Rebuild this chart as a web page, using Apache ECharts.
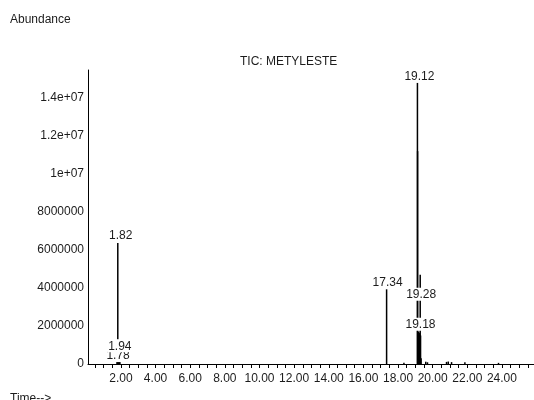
<!DOCTYPE html>
<html>
<head>
<meta charset="utf-8">
<script src="https://cdn.jsdelivr.net/npm/echarts@6/dist/echarts.min.js"></script>
<style>
  html, body { margin: 0; padding: 0; background: #fff; }
  #chart { width: 534px; height: 400px; }
</style>
</head>
<body>
<div id="chart"></div>
<script>
// Total ion chromatogram: retention time (min) vs abundance
const peakTimes = [1.78, 1.80, 1.82, 1.86, 1.90, 1.94, 17.34, 18.34,
                   19.12, 19.13, 19.18, 19.20, 19.22, 19.25, 19.28, 19.30, 19.33,
                   19.60, 19.70, 20.80, 20.90, 21.09, 21.86, 23.80];
const peakHeights = [260000, 240000, 6370000, 250000, 230000, 200000, 3930000, 60000,
                     14800000, 11200000, 1700000, 1600000, 1650000, 1550000, 4700000, 1500000, 300000,
                     120000, 90000, 110000, 130000, 100000, 90000, 60000];
// peaks that carry a retention-time label, with the label nudge [dx, dy] in px
const labelledPeaks = {
  1.78: [1, 4],
  1.82: [3, 0],
  1.94: [0, -7],
  17.34: [1, 0],
  19.12: [2, 1],
  19.18: [2, 0],
  19.28: [1, 27]
};
const xTickLabels = ['2.00', '4.00', '6.00', '8.00', '10.00', '12.00', '14.00',
                     '16.00', '18.00', '20.00', '22.00', '24.00'];
const yTickValues = [0, 2000000, 4000000, 6000000, 8000000, 10000000, 12000000, 14000000];
const yTickLabels = ['0', '2000000', '4000000', '6000000', '8000000', '1e+07', '1.2e+07', '1.4e+07'];

const X_MIN = 0.1, X_MAX = 25.85;
const xLabelValues = xTickLabels.map(Number);
const xMinorTicks = [];
for (let t = 0.5; t <= X_MAX; t += 0.5) xMinorTicks.push(Math.round(t * 10) / 10);

const textColor = '#1c1c1c';
const fontFamily = 'Liberation Sans, Arial, sans-serif';

const barData = peakTimes.map((t, i) => {
  const item = { value: [t, peakHeights[i]] };
  if (labelledPeaks[t]) item.label = { show: true };
  return item;
});

const chart = echarts.init(document.getElementById('chart'), null, { renderer: 'canvas' });
chart.setOption({
  animation: false,
  backgroundColor: '#fff',
  textStyle: { fontFamily: fontFamily },
  title: [
    { text: 'Abundance', left: 5, top: 9,
      textStyle: { fontSize: 12, fontWeight: 'normal', color: textColor, fontFamily: fontFamily } },
    { text: 'TIC: METYLESTE', left: 235, top: 51,
      textStyle: { fontSize: 12, fontWeight: 'normal', color: textColor, fontFamily: fontFamily } },
    { text: 'Time-->', left: 5, top: 388,
      textStyle: { fontSize: 12, fontWeight: 'normal', color: textColor, fontFamily: fontFamily } }
  ],
  grid: { left: 88, right: 0, top: 70, bottom: 36, containLabel: false },
  xAxis: {
    type: 'value',
    min: X_MIN,
    max: X_MAX,
    splitLine: { show: false },
    axisLine: { show: true, onZero: false, lineStyle: { color: '#000', width: 1 } },
    axisTick: {
      show: true,
      length: 4,
      inside: false,
      customValues: xMinorTicks,
      lineStyle: { color: '#000', width: 1 }
    },
    axisLabel: {
      customValues: xLabelValues,
      formatter: v => v.toFixed(2),
      margin: 9,
      fontSize: 12,
      color: textColor,
      fontFamily: fontFamily
    }
  },
  yAxis: {
    type: 'value',
    min: 0,
    max: 15470000,
    splitLine: { show: false },
    axisLine: { show: true, lineStyle: { color: '#000', width: 1 } },
    axisTick: { show: false },
    axisLabel: {
      customValues: yTickValues,
      formatter: v => yTickLabels[yTickValues.indexOf(v)],
      margin: 4,
      fontSize: 12,
      color: textColor,
      fontFamily: fontFamily
    }
  },
  series: [{
    type: 'bar',
    data: barData,
    barWidth: 1.5,
    itemStyle: { color: '#000' },
    label: {
      show: false,
      position: 'top',
      distance: 1,
      formatter: p => p.value[0].toFixed(2),
      fontSize: 12,
      color: textColor,
      fontFamily: fontFamily,
      backgroundColor: '#fff',
      padding: [1, 1, 0, 1]
    },
    labelLayout: params => {
      const nudge = labelledPeaks[peakTimes[params.dataIndex]];
      return nudge ? { dx: nudge[0], dy: nudge[1], hideOverlap: false } : {};
    }
  }]
});
</script>
</body>
</html>
